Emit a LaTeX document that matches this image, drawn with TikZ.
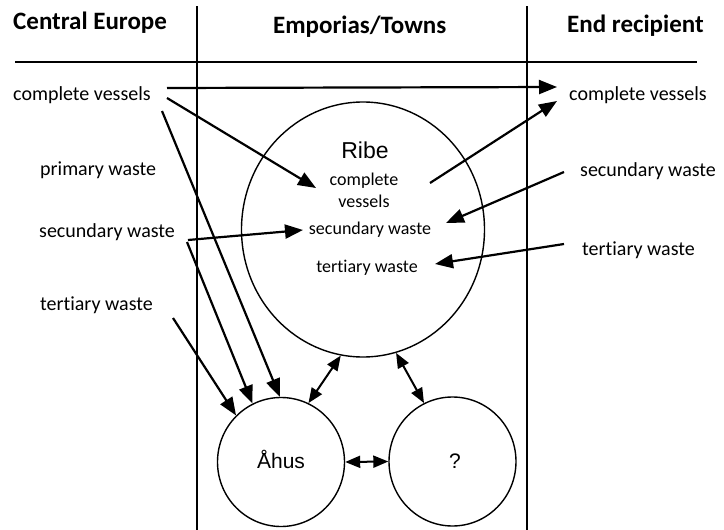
\documentclass[tikz,border=0pt]{standalone}
\usepackage{fontspec}
\setmainfont[RawFeature=-liga]{Carlito}
\newfontfamily\arialf{Liberation Sans}
\usetikzlibrary{arrows.meta,shapes.geometric}
\tikzset{
  lbl/.style={inner sep=0pt, anchor=base west, font=\fontsize{20}{24}\selectfont},
  inlbl/.style={inner sep=0pt, anchor=base, font=\fontsize{18}{22}\selectfont},
  head/.style={inner sep=0pt, anchor=base west, font=\bfseries\fontsize{25}{29}\selectfont},
  town/.style={draw, ellipse, line width=1.4pt, inner sep=0pt},
  frame/.style={line width=1.4pt},
  flow/.style={line width=2.2pt, -{Triangle[length=18pt,width=14pt]}},
  link/.style={line width=2pt, {Triangle[length=15pt,width=12pt]}-{Triangle[length=15pt,width=12pt]}},
}
\begin{document}
\begin{tikzpicture}[x=1pt,y=-1pt]
\useasboundingbox (0,0) rectangle (724,530);
% frame
\coordinate (vl1) at (197,6);  \coordinate (vl2) at (197,530);
\coordinate (vr1) at (527,6);  \coordinate (vr2) at (527,530);
\coordinate (h1) at (15,62);   \coordinate (h2) at (697,62);
\draw[frame] (vl1) -- (vl2);
\draw[frame] (vr1) -- (vr2);
\draw[frame] (h1) -- (h2);
% headers
\node[head] (hce) at (13,30) {Central Europe};
\node[head] (het) at (273,33) {Emporias/Towns};
\node[head] (her) at (567,32) {End recipient};
% left labels
\node[lbl] (lcv) at (13,100) {complete vessels};
\node[lbl] (lpw) at (40,175) {primary waste};
\node[lbl] (lsw) at (39,237) {secundary waste};
\node[lbl] (ltw) at (40,310) {tertiary waste};
% right labels
\node[lbl] (rcv) at (569,100) {complete vessels};
\node[lbl] (rsw) at (580,176) {secundary waste};
\node[lbl] (rtw) at (582,255) {tertiary waste};
% towns
\node[town, minimum width=243pt, minimum height=255pt] (ribe) at (363,229.5) {};
\node[town, minimum width=127pt, minimum height=129pt] (ahus) at (281,462) {};
\node[town, minimum width=127pt, minimum height=129pt] (q) at (452.5,461.5) {};
\node[inner sep=0pt, anchor=base, font=\arialf\fontsize{23}{27}\selectfont] (ribet) at (365,158) {Ribe};
\node[inner sep=0pt, anchor=base, font=\arialf\fontsize{21}{25}\selectfont] (ahust) at (281,468) {Åhus};
\node[inner sep=0pt, anchor=base, font=\arialf\fontsize{21}{25}\selectfont] (qt) at (455,468) {?};
\node[inlbl] (icv1) at (364,185) {complete};
\node[inlbl] (icv2) at (364,207) {vessels};
\node[inlbl] (isw) at (370,234) {secundary waste};
\node[inlbl] (itw) at (367,272) {tertiary waste};
% arrow end points
\coordinate (a1s) at (167,88);  \coordinate (a1e) at (557,87);
\coordinate (a2s) at (167,98);  \coordinate (a2e) at (316,188);
\coordinate (a3s) at (162,111);
\coordinate (a4s) at (188,240); \coordinate (a4e) at (303,230);
\coordinate (a5s) at (187,242);
\coordinate (a6s) at (173,318);
\coordinate (a7s) at (430,183); \coordinate (a7e) at (557,101);
\coordinate (a8s) at (564,172); \coordinate (a8e) at (446,223);
\coordinate (a9s) at (564,244); \coordinate (a9e) at (435,264);
% flows
\draw[flow] (a1s) -- (a1e);
\draw[flow] (a2s) -- (a2e);
\draw[flow] (a3s) -- (ahus.91);
\draw[flow] (a4s) -- (a4e);
\draw[flow] (a5s) -- (ahus.116);
\draw[flow] (a6s) -- (ahus.134);
\draw[flow] (a7s) -- (a7e);
\draw[flow] (a8s) -- (a8e);
\draw[flow] (a9s) -- (a9e);
% links
\draw[link] (ribe.-100) -- (ahus.65);
\draw[link] (ribe.-75) -- (q.116);
\draw[link] (ahus.east) -- (q.west);
\end{tikzpicture}
\end{document}
